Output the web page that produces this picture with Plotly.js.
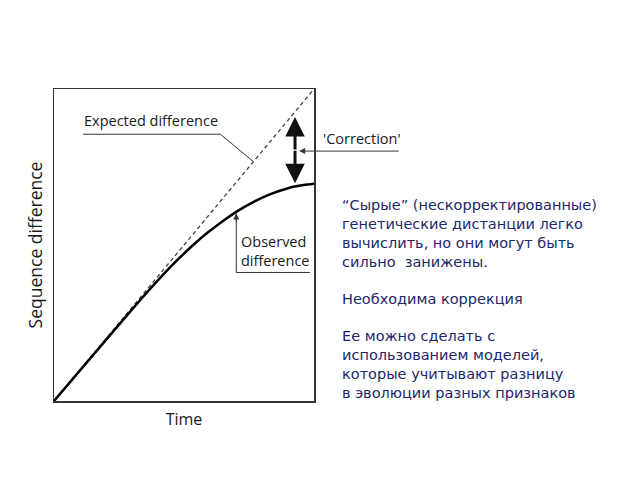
<!DOCTYPE html>
<html><head><meta charset="utf-8">
<script src="https://cdn.plot.ly/plotly-3.0.1.min.js"></script>
<style>html,body{margin:0;padding:0;background:#fff}#chart{width:640px;height:480px}</style>
</head><body><div id="chart"></div>
<script>
// Data (normalised time and sequence difference)
const expectedTime = [0, 1];
const expectedDiff = [0, 1];
const observedTime = [0, 0.2, 0.33, 0.41, 0.47, 0.53, 0.59, 0.65, 0.71, 0.77, 0.83, 0.9, 0.96, 1.0];
const observedDiff = [0, 0.196, 0.322, 0.396, 0.448, 0.496, 0.539, 0.577, 0.611, 0.639, 0.662, 0.682, 0.692, 0.696];

const labelExpected = "Expected difference";
const labelObserved = "Observed<br>difference";
const labelCorrection = "'Correction'";
const xTitle = "Time";
const yTitle = "Sequence difference";
const note1 = "“Сырые” (нескорректированные)<br>генетические дистанции легко<br>вычислить, но они могут быть<br>сильно  занижены.";
const note2 = "Необходима коррекция";
const note3 = "Ее можно сделать с<br>использованием моделей,<br>которые учитывают разницу<br>в эволюции разных признаков";

const ink = "#1a1a1a";
const navy = "#1c2868";
const labFont = {family: "Open Sans, Liberation Sans, sans-serif", size: 14.5, color: ink};
const noteFont = {family: "DejaVu Sans, sans-serif", size: 14.5, color: navy, weight: 500};

const traces = [
  {x: expectedTime, y: expectedDiff, mode: "lines", line: {color: "#444", width: 1.3, dash: "4px,3px"}, hoverinfo: "skip"},
  {x: observedTime, y: observedDiff, mode: "lines", line: {color: "#000", width: 2.5, shape: "spline", smoothing: 0.7}, hoverinfo: "skip"}
];

const layout = {
  width: 640, height: 480,
  margin: {l: 54, r: 326, t: 89, b: 79},
  paper_bgcolor: "#fff", plot_bgcolor: "#fff",
  showlegend: false,
  xaxis: {range: [0, 1], showgrid: false, zeroline: false, showticklabels: false, ticks: "",
          showline: true, mirror: true, linecolor: "#333", linewidth: 1.5,
          title: {text: xTitle, font: {family: "Open Sans, sans-serif", size: 16, color: ink}, standoff: 12}},
  yaxis: {range: [0, 1], showgrid: false, zeroline: false, showticklabels: false, ticks: "",
          showline: true, mirror: true, linecolor: "#333", linewidth: 1.5,
          title: {text: yTitle, font: {family: "Open Sans, sans-serif", size: 17.5, color: ink}, standoff: 5}},
  shapes: [
    {type: "path", xref: "paper", yref: "paper", path: "M 0.112 0.855 L 0.64 0.855 L 0.766 0.768", line: {color: "#333", width: 1}},
    {type: "path", xref: "paper", yref: "paper", path: "M 0.701 0.601 L 0.701 0.412 L 0.985 0.412", line: {color: "#333", width: 1}}
  ],
  annotations: [
    {xref: "paper", yref: "paper", x: 0.108, y: 0.9, xanchor: "left", yanchor: "middle", text: labelExpected, showarrow: false, font: labFont},
    {xref: "paper", yref: "paper", x: 0.71, y: 0.482, xanchor: "left", yanchor: "middle", align: "left", text: labelObserved, showarrow: false, font: labFont},
    {xref: "paper", yref: "paper", x: 1.027, y: 0.842, xanchor: "left", yanchor: "middle", text: labelCorrection, showarrow: false, font: labFont},
    // double arrow
    {xref: "paper", yref: "paper", x: 0.927, y: 0.91, ax: 0, ay: 34, text: "", showarrow: true, arrowhead: 2, arrowsize: 1.3, arrowwidth: 3, arrowcolor: "#111", standoff: 0},
    {xref: "paper", yref: "paper", x: 0.927, y: 0.698, ax: 0, ay: -34, text: "", showarrow: true, arrowhead: 2, arrowsize: 1.3, arrowwidth: 3, arrowcolor: "#111", standoff: 0},
    // correction leader
    {xref: "paper", yref: "paper", x: 0.943, y: 0.801, ax: 101, ay: 0, text: "", showarrow: true, arrowhead: 2, arrowsize: 1.2, arrowwidth: 1, arrowcolor: "#333", standoff: 0},
    // observed leader arrow tip
    {xref: "paper", yref: "paper", x: 0.701, y: 0.601, ax: 0, ay: 10, text: "", showarrow: true, arrowhead: 2, arrowsize: 1.2, arrowwidth: 1, arrowcolor: "#333", standoff: 0},
    // notes
    {xref: "paper", yref: "paper", x: 1.1, y: 0.537, xanchor: "left", yanchor: "middle", align: "left", text: note1, showarrow: false, font: noteFont},
    {xref: "paper", yref: "paper", x: 1.1, y: 0.328, xanchor: "left", yanchor: "middle", align: "left", text: note2, showarrow: false, font: noteFont},
    {xref: "paper", yref: "paper", x: 1.1, y: 0.116, xanchor: "left", yanchor: "middle", align: "left", text: note3, showarrow: false, font: noteFont}
  ]
};

Plotly.newPlot("chart", traces, layout, {staticPlot: true, displayModeBar: false});
</script>
</body></html>
